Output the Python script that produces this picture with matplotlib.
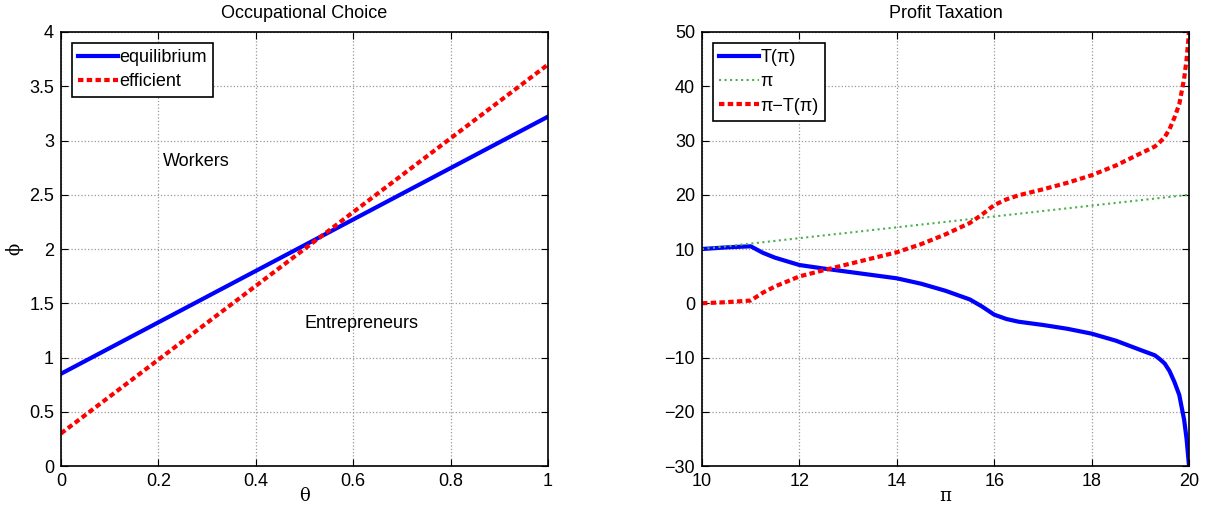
import matplotlib
matplotlib.use("Agg")
import matplotlib.pyplot as plt

plt.rcParams['font.family'] = ['Liberation Sans', 'DejaVu Sans']

# Left panel: occupational choice thresholds (straight lines, end points)
theta = [0.0, 1.0]
phi_equilibrium = [0.85, 3.22]
phi_efficient = [0.30, 3.70]

# Right panel: profit taxation
profit = [10.0, 10.5, 11.0, 11.25, 11.5, 12.0, 12.5, 13.0, 13.5, 14.0, 14.5,
          15.0, 15.5, 15.75, 16.0, 16.25, 16.5, 17.0, 17.5, 18.0, 18.5, 19.0,
          19.3, 19.4, 19.5, 19.6, 19.7, 19.8, 19.9, 19.95, 20.0]
tax = [10.0, 10.3, 10.5, 9.3, 8.4, 7.05, 6.4, 5.8, 5.2, 4.6, 3.6,
       2.3, 0.7, -0.6, -2.1, -2.9, -3.4, -4.0, -4.7, -5.6, -6.9, -8.6,
       -9.6, -10.3, -11.1, -12.5, -14.5, -16.9, -21.5, -25.0, -30.0]
after_tax = [0.0, 0.2, 0.5, 1.95, 3.1, 4.95, 6.1, 7.2, 8.3, 9.4, 10.9,
             12.7, 14.8, 16.35, 18.1, 19.15, 19.9, 21.0, 22.2, 23.6, 25.4, 27.6,
             28.9, 29.7, 30.6, 32.1, 34.2, 36.7, 41.4, 44.95, 50.0]
identity_x = [10.0, 20.0]
identity_y = [10.0, 20.0]

fig = plt.figure(figsize=(12.07, 5.12), dpi=100)
ax1 = fig.add_axes([0.0505, 0.0898, 0.4035, 0.8477])
ax2 = fig.add_axes([0.5816, 0.0898, 0.4035, 0.8477])

dash_style = (0, (1.3, 0.8))


def style_axes(ax):
    ax.grid(True, linestyle=':', color='#999999', linewidth=0.9)
    ax.tick_params(direction='in', top=True, right=True, labelsize=13, length=5, pad=5)
    for s in ax.spines.values():
        s.set_linewidth(1.2)


def add_legend(ax):
    leg = ax.legend(loc='upper left', fontsize=13, fancybox=False, edgecolor='black',
                    handlelength=2.2, handletextpad=0.1, borderpad=0.35,
                    labelspacing=0.4, framealpha=1, borderaxespad=0.6)
    leg.get_frame().set_linewidth(1.2)
    return leg


# Occupational choice
ax1.plot(theta, phi_equilibrium, color='blue', linewidth=3, label='equilibrium')
ax1.plot(theta, phi_efficient, color='red', linewidth=3, linestyle=dash_style,
         label='efficient')
ax1.set_xlim(0, 1)
ax1.set_ylim(0, 4)
ax1.set_xticks([0, 0.2, 0.4, 0.6, 0.8, 1])
ax1.set_xticklabels(['0', '0.2', '0.4', '0.6', '0.8', '1'])
ax1.set_yticks([0, 0.5, 1, 1.5, 2, 2.5, 3, 3.5, 4])
ax1.set_yticklabels(['0', '0.5', '1', '1.5', '2', '2.5', '3', '3.5', '4'])
ax1.set_xlabel('θ', fontsize=13, family='DejaVu Serif', labelpad=-2)
ax1.set_ylabel('ϕ', fontsize=13, family='DejaVu Serif', labelpad=4)
ax1.set_title('Occupational Choice', fontsize=13, pad=10)
ax1.text(0.21, 2.81, 'Workers', fontsize=13, va='center')
ax1.text(0.50, 1.31, 'Entrepreneurs', fontsize=13, va='center')
style_axes(ax1)
add_legend(ax1)

# Profit taxation
ax2.plot(profit, tax, color='blue', linewidth=3, label='T(π)')
ax2.plot(identity_x, identity_y, color='#4caf50', linewidth=1.5, linestyle=':', label='π')
ax2.plot(profit, after_tax, color='red', linewidth=3, linestyle=dash_style,
         label='π−T(π)')
ax2.set_xlim(10, 20)
ax2.set_ylim(-30, 50)
ax2.set_xticks([10, 12, 14, 16, 18, 20])
ax2.set_yticks([-30, -20, -10, 0, 10, 20, 30, 40, 50])
ax2.set_yticklabels(['−30', '−20', '−10', '0', '10', '20', '30', '40', '50'])
ax2.set_xlabel('π', fontsize=13, family='DejaVu Serif', labelpad=-2)
ax2.set_title('Profit Taxation', fontsize=13, pad=10)
style_axes(ax2)
add_legend(ax2)

fig.savefig('out.png', dpi=100)
